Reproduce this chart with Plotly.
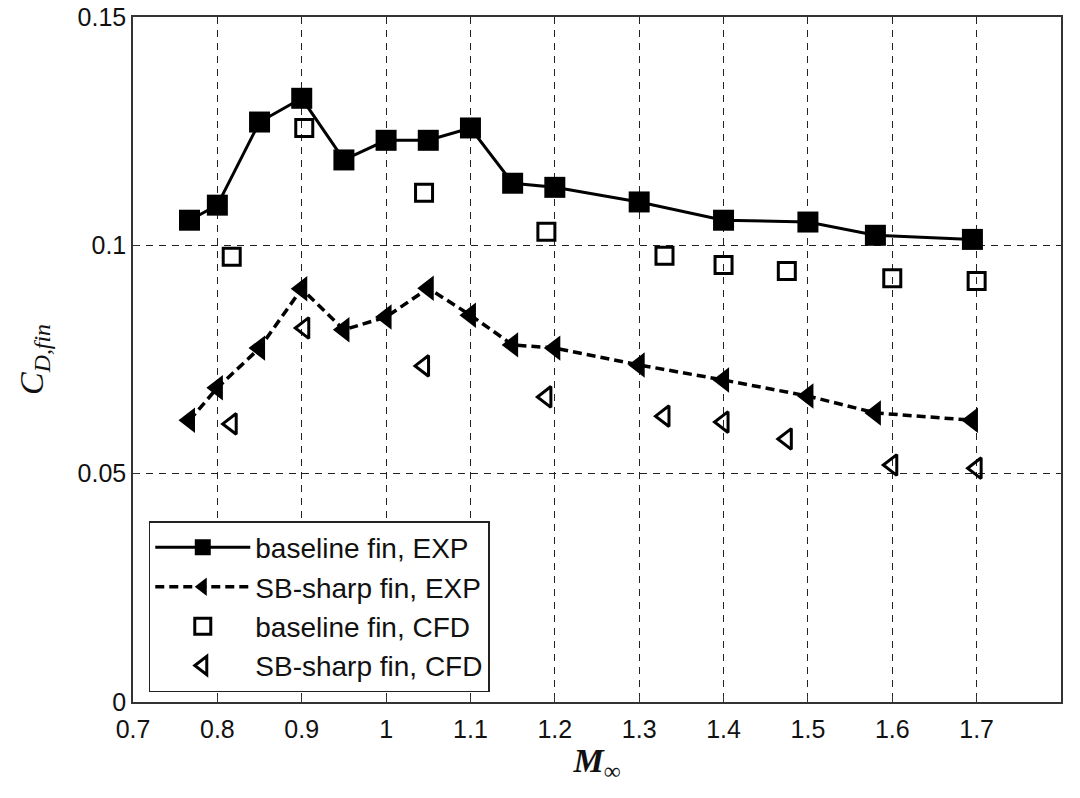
import plotly.graph_objects as go

# Mach numbers and drag coefficients
mach_exp = [0.767, 0.80, 0.85, 0.90, 0.95, 1.00, 1.05, 1.10, 1.15, 1.20, 1.30, 1.40, 1.50, 1.58, 1.695]
cd_baseline_exp = [0.1055, 0.1088, 0.1270, 0.1322, 0.1187, 0.1230, 0.1230, 0.1257, 0.1136, 0.1127,
                   0.1095, 0.1055, 0.1051, 0.1022, 0.1013]
cd_sbsharp_exp = [0.0617, 0.0688, 0.0775, 0.0905, 0.0815, 0.0843, 0.0906, 0.0847, 0.0782, 0.0775,
                  0.0738, 0.0705, 0.0670, 0.0633, 0.0617]

mach_cfd = [0.817, 0.903, 1.045, 1.19, 1.33, 1.40, 1.475, 1.60, 1.70]
cd_baseline_cfd = [0.0975, 0.1257, 0.1115, 0.1030, 0.0977, 0.0957, 0.0944, 0.0928, 0.0922]
cd_sbsharp_cfd = [0.0609, 0.0819, 0.0736, 0.0668, 0.0626, 0.0613, 0.0576, 0.0519, 0.0512]

x_ticks = [0.7, 0.8, 0.9, 1.0, 1.1, 1.2, 1.3, 1.4, 1.5, 1.6, 1.7]
x_ticklabels = ["0.7", "0.8", "0.9", "1", "1.1", "1.2", "1.3", "1.4", "1.5", "1.6", "1.7"]
y_ticks = [0, 0.05, 0.1, 0.15]
y_ticklabels = ["0", "0.05", "0.1", "0.15"]

fig = go.Figure()
fig.add_trace(go.Scatter(
    x=mach_exp, y=cd_baseline_exp, mode="lines+markers", name="baseline fin, EXP",
    line=dict(color="black", width=3),
    marker=dict(symbol="square", size=21, color="black")))
fig.add_trace(go.Scatter(
    x=mach_exp, y=cd_sbsharp_exp, mode="lines+markers", name="SB-sharp fin, EXP",
    line=dict(color="black", width=3.5, dash="9px,5px"),
    marker=dict(symbol="triangle-left", size=22, color="black")))
fig.add_trace(go.Scatter(
    x=mach_cfd, y=cd_baseline_cfd, mode="markers", name="baseline fin, CFD",
    marker=dict(symbol="square-open", size=17, color="black", line=dict(width=3, color="black"))))
fig.add_trace(go.Scatter(
    x=mach_cfd, y=cd_sbsharp_cfd, mode="markers", name="SB-sharp fin, CFD",
    marker=dict(symbol="triangle-left-open", size=18, color="black", line=dict(width=3, color="black"))))

axis_common = dict(
    showline=True, linecolor="#333333", linewidth=1.5, mirror=True,
    showgrid=True, gridcolor="#222222", gridwidth=1, griddash="7px,6px",
    zeroline=False, ticks="inside", ticklen=6, tickcolor="#333333",
    automargin=False, ticklabeloverflow="allow",
    tickfont=dict(family="Liberation Sans, Arial", size=25, color="#111111"),
)

fig.update_layout(
    width=1080, height=798,
    margin=dict(l=133, r=19, t=17, b=96),
    paper_bgcolor="white", plot_bgcolor="white",
    showlegend=True,
    legend=dict(
        x=0.017, y=0.264, xanchor="left", yanchor="top",
        bordercolor="#222222", borderwidth=1.5, bgcolor="white",
        font=dict(family="Liberation Sans, Arial", size=28, color="#111111"),
        itemwidth=95, tracegroupgap=0,
    ),
    xaxis=dict(range=[0.7, 1.8], tickvals=x_ticks, ticktext=x_ticklabels,
               ticklabelstandoff=4,
               title=dict(text="<i><b>M</b></i><sub>∞</sub>",
                          font=dict(family="Liberation Serif, Times New Roman", size=34, color="#111111"),
                          standoff=6),
               **axis_common),
    yaxis=dict(range=[0, 0.15], tickvals=y_ticks, ticktext=y_ticklabels,
               title=dict(text="<i>C<sub>D,fin</sub></i>",
                          font=dict(family="Liberation Serif, Times New Roman", size=34, color="#111111"),
                          standoff=24),
               **axis_common),
)

fig.write_html("out.html", config={"displayModeBar": False},
               post_script="document.body.style.margin='0px';")
